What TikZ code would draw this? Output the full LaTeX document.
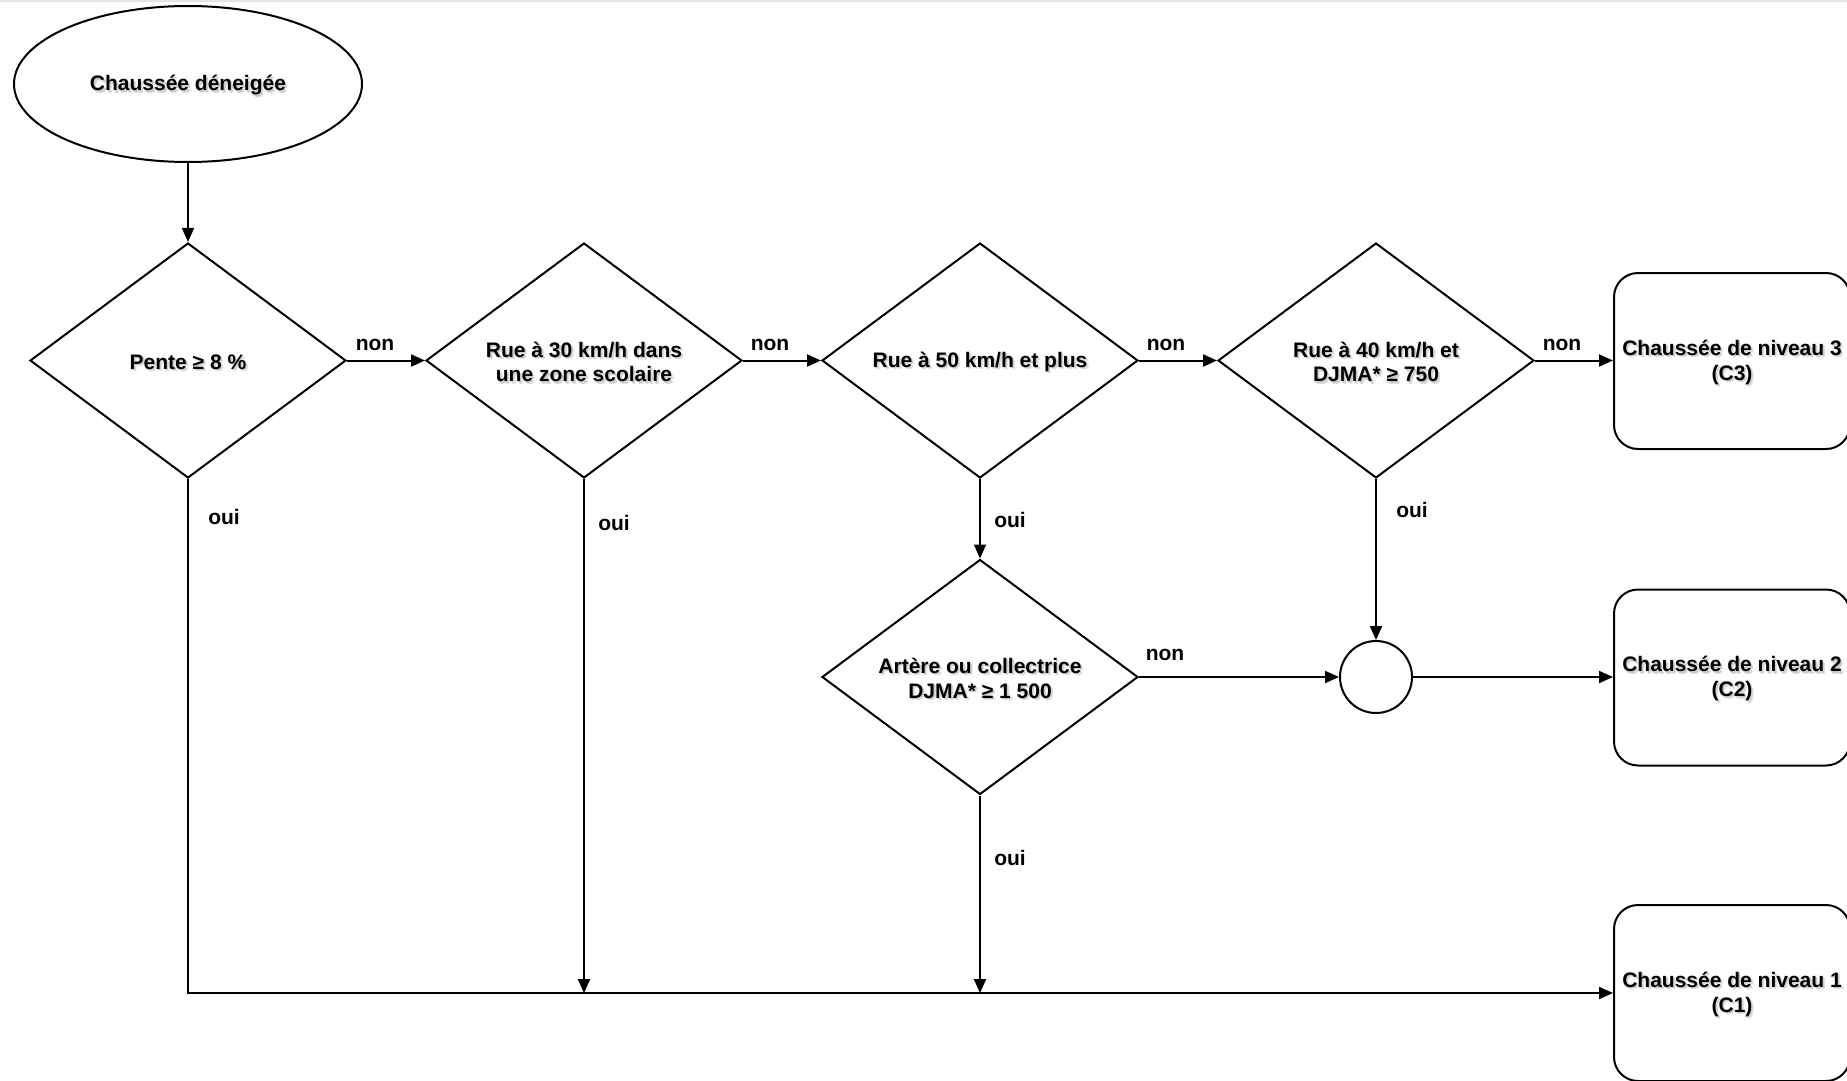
\documentclass[tikz,border=0pt]{standalone}
\usepackage{fontspec}
\setmainfont{Liberation Sans}
\usetikzlibrary{shapes.geometric,arrows.meta}
\newcommand\shd[1]{\raisebox{-2.5pt}[\height][\depth]{\makebox[0pt][l]{\hspace{2.4pt}\raisebox{-2.4pt}{\color{black!12}#1}}\makebox[0pt][l]{\hspace{1.3pt}\raisebox{-1.3pt}{\color{black!20}#1}}#1}}
\begin{document}
\begin{tikzpicture}[x=1pt,y=-1pt,
  line width=2pt,
  txt/.style={font=\fontsize{21}{24.7}\selectfont\bfseries, align=center},
  startbox/.style={draw, ellipse, txt, minimum width=348pt, minimum height=156pt, inner sep=0pt},
  decbox/.style={draw, diamond, aspect=1.345, txt, minimum width=316pt, minimum height=235pt, inner sep=0pt},
  resbox/.style={draw, rectangle, rounded corners=24pt, txt, minimum width=236pt, minimum height=176pt, inner sep=0pt},
  joinbox/.style={draw, circle, minimum size=72pt, inner sep=0pt},
  lbl/.style={txt, inner sep=0pt},
  arr/.style={-{Triangle[length=14pt,width=12pt]}}]
\useasboundingbox (0,0) rectangle (1847,1081);
\draw[black!10, line width=2pt] (0,1) -- (1847,1);
\node[startbox] (s) at (188,84) {\shd{Chaussée déneigée}};
\node[decbox] (d1) at (188,360.5) {\shd{Pente ≥ 8 \%}};
\node[decbox] (d2) at (584,360.5) {\shd{Rue à 30 km/h dans}\\\shd{une zone scolaire}};
\node[decbox] (d3) at (980,360.5) {\shd{Rue à 50 km/h et plus}};
\node[decbox] (d4) at (1376,360.5) {\shd{Rue à 40 km/h et}\\\shd{DJMA* ≥ 750}};
\node[decbox] (d5) at (980,677) {\shd{Artère ou collectrice}\\\shd{DJMA* ≥ 1 500}};
\node[joinbox] (j) at (1376,677) {};
\node[resbox] (c3) at (1732,361) {\shd{Chaussée de niveau 3}\\\shd{(C3)}};
\node[resbox] (c2) at (1732,677.5) {\shd{Chaussée de niveau 2}\\\shd{(C2)}};
\node[resbox] (c1) at (1732,993) {\shd{Chaussée de niveau 1}\\\shd{(C1)}};
\draw[arr] (s) -- (d1);
\draw[arr] (d1.east) -- (d2.west);
\draw[arr] (d2.east) -- (d3.west);
\draw[arr] (d3.east) -- (d4.west);
\draw[arr] (d4.east) -- (d4.east -| c3.west);
\draw[arr] (d3.south) -- (d5.north);
\draw[arr] (d4.south) -- (j.north);
\draw[arr] (d5.east) -- (j.west);
\draw[arr] (j.east) -- (j.east -| c2.west);
\draw[arr] (d1.south) |- (c1.west);
\draw[arr] (d2.south) -- (d2.south |- c1.west);
\draw[arr] (d5.south) -- (d5.south |- c1.west);
\node[lbl] (n1) at (375,345) {non};
\node[lbl] (n2) at (770,345) {non};
\node[lbl] (n3) at (1166,345) {non};
\node[lbl] (n4) at (1562,345) {non};
\node[lbl] (n5) at (1165,655) {non};
\node[lbl] (o1) at (224,517) {oui};
\node[lbl] (o2) at (614,523) {oui};
\node[lbl] (o3) at (1010,520) {oui};
\node[lbl] (o4) at (1412,510) {oui};
\node[lbl] (o5) at (1010,858) {oui};
\end{tikzpicture}
\end{document}
